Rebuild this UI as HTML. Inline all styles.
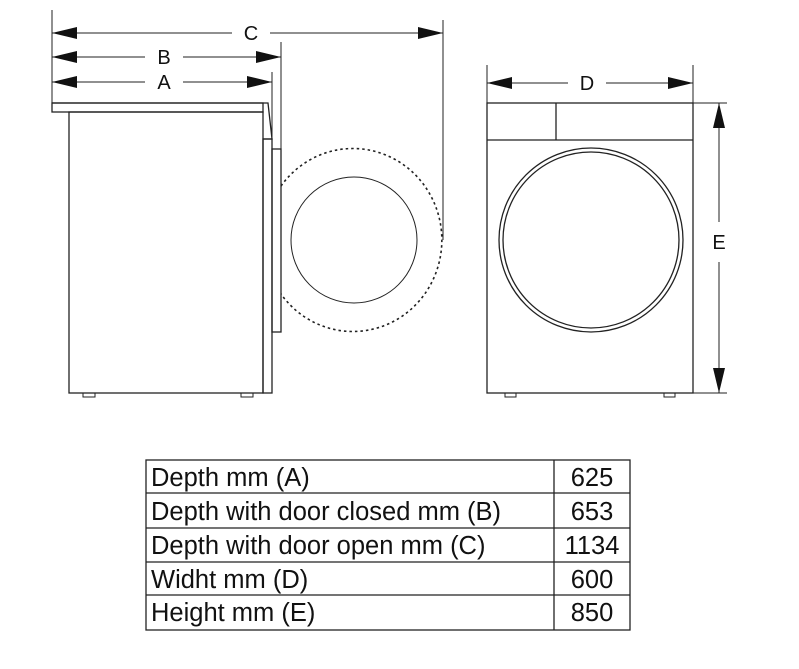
<!DOCTYPE html>
<html><head><meta charset="utf-8"><style>
html,body{margin:0;padding:0;background:#fff;}
svg{display:block}
text{font-family:"Liberation Sans",Arial,sans-serif;fill:#111}
</style></head><body>
<svg width="799" height="669" viewBox="0 0 799 669" xmlns="http://www.w3.org/2000/svg">
<g stroke="#222" stroke-width="1.3" fill="none">
<line x1="52" y1="10" x2="52" y2="103" stroke-width="1"/>
<line x1="443" y1="20" x2="443" y2="240" stroke-width="1"/>
<line x1="281" y1="42" x2="281" y2="149" stroke-width="1"/>
<line x1="272" y1="72" x2="272" y2="139" stroke-width="1"/>
<line x1="52" y1="33" x2="232" y2="33" stroke-width="1"/><line x1="270" y1="33" x2="443" y2="33" stroke-width="1"/>
<line x1="52" y1="57" x2="145" y2="57" stroke-width="1"/><line x1="183" y1="57" x2="281" y2="57" stroke-width="1"/>
<line x1="52" y1="82" x2="145" y2="82" stroke-width="1"/><line x1="183" y1="82" x2="272" y2="82" stroke-width="1"/>
<polyline points="52,103 268,103 272,139 263,139"/>
<rect x="52" y="103" width="211" height="9"/>
<rect x="69" y="112" width="194" height="281"/>
<rect x="263" y="139" width="9" height="254"/>
<rect x="272" y="149" width="9" height="183"/>
<rect x="83" y="393" width="12" height="4" stroke-width="1"/>
<rect x="241" y="393" width="12" height="4" stroke-width="1"/>
<path d="M281,186 A89,91.5 0 1 1 281,294" stroke-dasharray="2.5,3" stroke-width="1.6"/>
<circle cx="354" cy="240" r="63" stroke-width="1"/>
<line x1="487" y1="65" x2="487" y2="103" stroke-width="1"/>
<line x1="693" y1="65" x2="693" y2="103" stroke-width="1"/>
<line x1="487" y1="83" x2="568" y2="83" stroke-width="1"/><line x1="606" y1="83" x2="693" y2="83" stroke-width="1"/>
<rect x="487" y="103" width="206" height="290"/>
<line x1="487" y1="140" x2="693" y2="140"/>
<line x1="556" y1="103" x2="556" y2="140"/>
<circle cx="591" cy="240" r="92"/>
<circle cx="591" cy="240" r="88"/>
<rect x="505" y="393" width="11" height="4" stroke-width="1"/>
<rect x="664" y="393" width="11" height="4" stroke-width="1"/>
<line x1="693" y1="103" x2="727" y2="103" stroke-width="1"/>
<line x1="693" y1="393" x2="727" y2="393" stroke-width="1"/>
<line x1="719" y1="103" x2="719" y2="222" stroke-width="1"/><line x1="719" y1="262" x2="719" y2="393" stroke-width="1"/>
</g>
<g fill="#111">
<polygon points="52,33 77,27 77,39"/><polygon points="443,33 418,27 418,39"/>
<polygon points="52,57 77,51 77,63"/><polygon points="281,57 256,51 256,63"/>
<polygon points="52,82 77,76 77,88"/><polygon points="272,82 247,76 247,88"/>
<polygon points="487,83 512,77 512,89"/><polygon points="693,83 668,77 668,89"/>
<polygon points="719,103 713,128 725,128"/><polygon points="719,393 713,368 725,368"/>
</g>
<g font-size="20" text-anchor="middle">
<text x="251" y="40">C</text>
<text x="164" y="64">B</text>
<text x="164" y="89">A</text>
<text x="587" y="90">D</text>
<text x="719" y="249">E</text>
</g>
<g stroke="#222" stroke-width="1.3" fill="none">
<rect x="146" y="460" width="484" height="170"/>
<line x1="554" y1="460" x2="554" y2="630"/>
<line x1="146" y1="493" x2="630" y2="493"/>
<line x1="146" y1="528" x2="630" y2="528"/>
<line x1="146" y1="562" x2="630" y2="562"/>
<line x1="146" y1="595" x2="630" y2="595"/>
</g>
<g font-size="25.5">
<text x="151" y="486">Depth mm (A)</text>
<text x="151" y="520">Depth with door closed mm (B)</text>
<text x="151" y="554">Depth with door open mm (C)</text>
<text x="151" y="588">Widht mm (D)</text>
<text x="151" y="621">Height mm (E)</text>
</g>
<g font-size="25.5" text-anchor="middle">
<text x="592" y="486">625</text>
<text x="592" y="520">653</text>
<text x="592" y="554">1134</text>
<text x="592" y="588">600</text>
<text x="592" y="621">850</text>
</g>
</svg>
</body></html>
